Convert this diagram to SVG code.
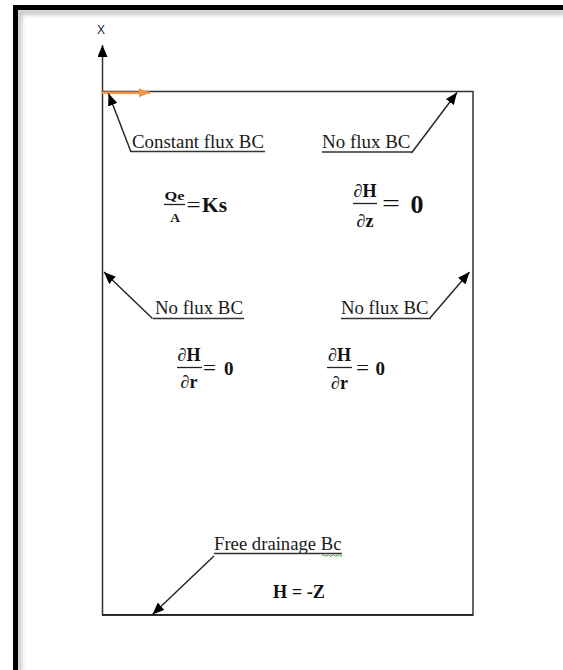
<svg xmlns="http://www.w3.org/2000/svg" width="563" height="670" viewBox="0 0 563 670">
<style>
.lbl{font-family:"Liberation Serif","Times New Roman",serif;font-size:19px;fill:#1a1a1a}
.eq{font-family:"Liberation Serif","DejaVu Serif",serif;font-weight:bold;fill:#111}
.ul{stroke:#333;stroke-width:1.4}
.bar{stroke:#222;stroke-width:1.3}
.conn{stroke:#222;stroke-width:1.4;fill:none;marker-end:url(#ah)}
</style>
<defs>
<marker id="ah" markerUnits="userSpaceOnUse" markerWidth="14" markerHeight="10" refX="12" refY="5" orient="auto">
<path d="M0,0 L12,5 L0,10 z" fill="#000"/>
</marker>
<marker id="aho" markerUnits="userSpaceOnUse" markerWidth="13" markerHeight="10" refX="11" refY="5" orient="auto">
<path d="M0,0.5 L11,5 L0,9.5 z" fill="#f79646"/>
</marker>
<filter id="sh" x="-5%" y="-5%" width="110%" height="110%">
<feGaussianBlur stdDeviation="2"/>
</filter>
</defs>
<rect width="563" height="670" fill="#fff"/>
<g id="frame">
<path d="M19,672 L19,12 L566,12" stroke="#999" stroke-width="5" fill="none" filter="url(#sh)" opacity="0.6"/>
<path d="M15.5,672 L15.5,7.5 L566,7.5" stroke="#000" stroke-width="5" fill="none"/>
</g>
<g id="domain">
<rect x="102.5" y="91.5" width="370.5" height="523.5" fill="none" stroke="#333" stroke-width="1.5"/>
<line x1="102" y1="614.8" x2="473" y2="614.8" stroke="#222" stroke-width="1.8"/>
</g>
<g id="axis">
<line x1="102.5" y1="92" x2="102.5" y2="45" stroke="#333" stroke-width="1.5" marker-end="url(#ah)"/>
<text x="101" y="34" font-family="Liberation Sans, Arial, sans-serif" font-size="12" text-anchor="middle" fill="#14243c">X</text>
</g>
<g id="connectors">
<line x1="102" y1="92.8" x2="150" y2="92.8" stroke="#f79646" stroke-width="2.6" marker-end="url(#aho)"/>
<line class="conn" x1="131" y1="152" x2="108.5" y2="93.5"/>
<line class="conn" x1="411.5" y1="153" x2="457" y2="92.5"/>
<line class="conn" x1="152.5" y1="318.5" x2="104" y2="272"/>
<line class="conn" x1="430" y1="318" x2="469.5" y2="272"/>
<line class="conn" x1="214" y1="556" x2="152.5" y2="614.5"/>
</g>
<g id="constant-flux">
<text class="lbl" x="132" y="148" textLength="132" lengthAdjust="spacingAndGlyphs">Constant flux BC</text>
<line class="ul" x1="131" y1="151.5" x2="265" y2="151.5"/>
<text class="eq" x="174.5" y="200" font-size="13.5" text-anchor="middle" textLength="20" lengthAdjust="spacingAndGlyphs">Qe</text>
<line class="bar" x1="164" y1="204.5" x2="185" y2="204.5"/>
<text class="eq" x="175" y="221.5" font-size="13.5" text-anchor="middle">A</text>
<text x="186.5" y="212" font-family="Liberation Serif, serif" font-size="21" fill="#111" textLength="14" lengthAdjust="spacingAndGlyphs">=</text>
<text class="eq" x="202" y="212" font-size="20" textLength="25" lengthAdjust="spacingAndGlyphs">Ks</text>
</g>
<g id="no-flux-top">
<text class="lbl" x="322" y="147.5" textLength="88.5" lengthAdjust="spacingAndGlyphs">No flux BC</text>
<line class="ul" x1="322" y1="152" x2="412" y2="152"/>
<text class="eq" x="365" y="196.5" font-size="18" text-anchor="middle" textLength="23" lengthAdjust="spacingAndGlyphs">∂H</text>
<line class="bar" x1="353" y1="203.5" x2="377" y2="203.5"/>
<text class="eq" x="365" y="227" font-size="18" text-anchor="middle">∂z</text>
<text x="382" y="212" font-family="Liberation Serif, serif" font-size="26" fill="#111" textLength="18" lengthAdjust="spacingAndGlyphs">=</text>
<text class="eq" x="410.5" y="212.5" font-size="26">0</text>
</g>
<g id="no-flux-left">
<text class="lbl" x="155" y="314" textLength="88" lengthAdjust="spacingAndGlyphs">No flux BC</text>
<line class="ul" x1="153" y1="318.5" x2="244" y2="318.5"/>
<text class="eq" x="189" y="360.5" font-size="18" text-anchor="middle" textLength="23" lengthAdjust="spacingAndGlyphs">∂H</text>
<line class="bar" x1="177" y1="367.5" x2="202" y2="367.5"/>
<text class="eq" x="189" y="388" font-size="18" text-anchor="middle">∂r</text>
<text x="203" y="375" font-family="Liberation Serif, serif" font-size="20" fill="#111" textLength="13" lengthAdjust="spacingAndGlyphs">=</text>
<text class="eq" x="224" y="375" font-size="19">0</text>
</g>
<g id="no-flux-right">
<text class="lbl" x="341" y="314" textLength="87.5" lengthAdjust="spacingAndGlyphs">No flux BC</text>
<line class="ul" x1="341" y1="318.5" x2="431" y2="318.5"/>
<text class="eq" x="339.5" y="360.5" font-size="18" text-anchor="middle" textLength="23" lengthAdjust="spacingAndGlyphs">∂H</text>
<line class="bar" x1="327" y1="367.5" x2="352" y2="367.5"/>
<text class="eq" x="339.5" y="388.5" font-size="18" text-anchor="middle">∂r</text>
<text x="356" y="375" font-family="Liberation Serif, serif" font-size="20" fill="#111" textLength="13" lengthAdjust="spacingAndGlyphs">=</text>
<text class="eq" x="375.5" y="375" font-size="19">0</text>
</g>
<g id="free-drainage">
<text class="lbl" x="214" y="549.5" textLength="127.5" lengthAdjust="spacingAndGlyphs">Free drainage Bc</text>
<line class="ul" x1="214" y1="553.5" x2="342" y2="553.5"/>
<path d="M322,555.5 q1.25,-1.5 2.5,0 t2.5,0 t2.5,0 t2.5,0 t2.5,0 t2.5,0 t2.5,0 t2.5,0" stroke="#3a9a3a" stroke-width="1" fill="none"/>
<text class="eq" x="273" y="597.5" font-size="19" textLength="52" lengthAdjust="spacingAndGlyphs">H = -Z</text>
</g>
</svg>
